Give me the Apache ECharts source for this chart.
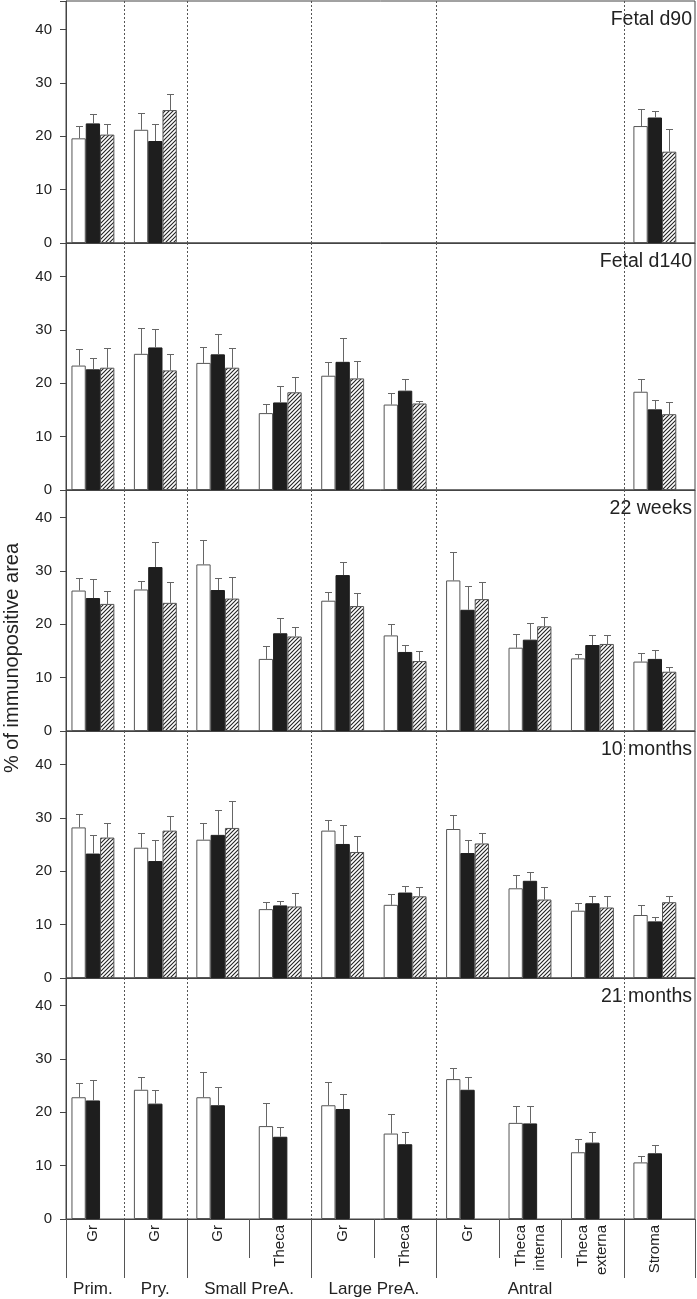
<!DOCTYPE html>
<html><head><meta charset="utf-8">
<script src="https://cdn.jsdelivr.net/npm/echarts@6/dist/echarts.min.js"></script>
<style>html,body{margin:0;padding:0;background:#fff}#c{width:697px;height:1299px}</style>
</head><body><div id="c"></div>
<script>
// ---------- DATA ----------
const categories = ['Gr','Gr','Gr','Theca','Gr','Theca','Gr','Theca\ninterna','Theca\nexterna','Stroma'];
const groups = ['Prim.','Pry.','Small PreA.','Small PreA.','Large PreA.','Large PreA.','Antral','Antral','Antral',''];
const panelNames = ['Fetal d90','Fetal d140','22 weeks','10 months','21 months'];
const yTickLabels = [0,10,20,30,40];
const seriesNames = ['open','filled','hatched'];

// Fetal d90
const d90_open      = [19.6,21.2,null,null,null,null,null,null,null,21.9];
const d90_open_se   = [2.3,3.2,null,null,null,null,null,null,null,3.2];
const d90_filled    = [22.4,19.1,null,null,null,null,null,null,null,23.5];
const d90_filled_se = [1.7,3.1,null,null,null,null,null,null,null,1.3];
const d90_hatch     = [20.3,24.9,null,null,null,null,null,null,null,17.1];
const d90_hatch_se  = [2.0,3.0,null,null,null,null,null,null,null,4.3];
// Fetal d140
const d140_open      = [23.3,25.5,23.8,14.4,21.4,16.0,null,null,null,18.4];
const d140_open_se   = [3.1,4.8,3.0,1.7,2.5,2.1,null,null,null,2.3];
const d140_filled    = [22.6,26.7,25.4,16.4,24.0,18.6,null,null,null,15.1];
const d140_filled_se = [2.1,3.5,3.9,3.0,4.5,2.1,null,null,null,1.7];
const d140_hatch     = [22.9,22.4,22.9,18.3,20.9,16.2,null,null,null,14.2];
const d140_hatch_se  = [3.7,3.0,3.6,2.8,3.3,0.5,null,null,null,2.2];
// 22 weeks
const w22_open      = [26.3,26.5,31.2,13.5,24.4,17.9,28.2,15.6,13.6,13.0];
const w22_open_se   = [2.3,1.5,4.6,2.5,1.7,2.2,5.4,2.5,0.8,1.6];
const w22_filled    = [24.9,30.7,26.4,18.3,29.2,14.8,22.7,17.1,16.1,13.5];
const w22_filled_se = [3.6,4.6,2.2,2.9,2.5,1.3,4.4,3.1,1.9,1.6];
const w22_hatch     = [23.8,24.0,24.8,17.7,23.4,13.1,24.7,19.6,16.3,11.1];
const w22_hatch_se  = [2.4,3.9,4.0,1.7,2.5,1.9,3.2,1.7,1.6,0.8];
// 10 months
const m10_open      = [28.2,24.4,25.9,12.9,27.6,13.7,27.9,16.8,12.6,11.8];
const m10_open_se   = [2.5,2.7,3.1,1.3,1.9,2.0,2.6,2.4,1.5,1.8];
const m10_filled    = [23.3,21.9,26.8,13.6,25.1,16.0,23.4,18.2,14.0,10.6];
const m10_filled_se = [3.4,4.0,4.6,0.9,3.5,1.3,2.4,1.7,1.4,0.8];
const m10_hatch     = [26.3,27.6,28.1,13.4,23.6,15.3,25.2,14.7,13.2,14.2];
const m10_hatch_se  = [2.7,2.8,5.1,2.5,3.0,1.7,1.9,2.3,2.2,1.2];
// 21 months
const m21_open      = [22.8,24.2,22.8,17.4,21.3,16.0,26.2,18.0,12.5,10.6];
const m21_open_se   = [2.6,2.4,4.8,4.3,4.3,3.7,2.1,3.2,2.4,1.2];
const m21_filled    = [22.2,21.6,21.3,15.4,20.6,14.0,24.2,17.9,14.3,12.3];
const m21_filled_se = [3.8,2.6,3.4,1.9,2.8,2.3,2.3,3.3,1.9,1.6];
const m21_hatch     = [null,null,null,null,null,null,null,null,null,null];
const m21_hatch_se  = [null,null,null,null,null,null,null,null,null,null];

const panels = [
  [[d90_open,d90_open_se],[d90_filled,d90_filled_se],[d90_hatch,d90_hatch_se]],
  [[d140_open,d140_open_se],[d140_filled,d140_filled_se],[d140_hatch,d140_hatch_se]],
  [[w22_open,w22_open_se],[w22_filled,w22_filled_se],[w22_hatch,w22_hatch_se]],
  [[m10_open,m10_open_se],[m10_filled,m10_filled_se],[m10_hatch,m10_hatch_se]],
  [[m21_open,m21_open_se],[m21_filled,m21_filled_se],[m21_hatch,m21_hatch_se]]
];

// ---------- LAYOUT / STYLE ----------
const W = 697;
const FONT = "'Liberation Sans', Arial, sans-serif";
const panelTops = [1, 243, 490, 731, 978];
const panelBottoms = [243, 490, 731, 978, 1219];
const pxPerUnit = 5.34;
const xMin = -0.431, xMax = 9.643;
const gridLeft = 66, gridRight = 695;
const barW = 14.3;
const axisColor = '#444';
const textColor = '#222';

function hatchCanvas(){
  const c = document.createElement('canvas'); c.width = 4; c.height = 4;
  const g = c.getContext('2d');
  g.fillStyle = '#fff'; g.fillRect(0,0,4,4);
  g.strokeStyle = '#222'; g.lineWidth = 1.1;
  g.beginPath();
  g.moveTo(0,4); g.lineTo(4,0);
  g.moveTo(-1,1); g.lineTo(1,-1);
  g.moveTo(3,5); g.lineTo(5,3);
  g.stroke();
  return c;
}
const barStyles = [
  {color:'#ffffff', borderColor:'#555', borderWidth:1},
  {color:'#1e1e1e', borderColor:'#1e1e1e', borderWidth:1},
  {color:{image:hatchCanvas(), repeat:'repeat'}, borderColor:'#555', borderWidth:1}
];

// group boundaries derived from group names
const groupBoundaries = [];
const subBoundaries = [];
for (let i = 1; i < groups.length; i++) {
  if (groups[i] !== groups[i-1]) groupBoundaries.push(i - 0.5);
  else subBoundaries.push(i - 0.5);
}
const groupSpans = [];
groups.forEach((g, i) => {
  const last = groupSpans[groupSpans.length-1];
  if (last && last.name === g) last.end = i; else groupSpans.push({name:g, start:i, end:i});
});

const grids = [], xAxes = [], yAxes = [], series = [], titles = [];
panels.forEach((panel, k) => {
  const h = panelBottoms[k] - panelTops[k];
  grids.push({left:gridLeft, width:gridRight-gridLeft, top:panelTops[k], height:h,
    show:true, borderColor:axisColor, borderWidth:1, backgroundColor:'transparent'});
  xAxes.push({gridIndex:k, type:'value', min:xMin, max:xMax,
    axisLine:{show:true, onZero:false, lineStyle:{color:axisColor, width:1}},
    axisTick:{show:false}, axisLabel:{show:false}, splitLine:{show:false}});
  yAxes.push({gridIndex:k, type:'value', min:0, max:h/pxPerUnit, interval:10,
    axisLine:{show:true, onZero:false, lineStyle:{color:axisColor, width:1}},
    axisTick:{show:true, inside:false, length:6, lineStyle:{color:axisColor},
      interval:0},
    axisLabel:{fontSize:15, color:textColor, fontFamily:FONT, margin:14,
      formatter: v => yTickLabels.indexOf(Math.round(v*1000)/1000) >= 0 ? String(v) : ''},
    splitLine:{show:false}});
  titles.push({text:panelNames[k], right:W-692, top:panelTops[k]+9, padding:0,
    textStyle:{fontSize:19.5, fontWeight:'normal', color:textColor, fontFamily:FONT}});

  // dashed group separators inside the panel
  series.push({type:'custom', xAxisIndex:k, yAxisIndex:k, silent:true, z:1,
    data: groupBoundaries.map(b => [b, 0]), encode:{x:0, y:1},
    renderItem:(params, api) => {
      const p = api.coord([api.value(0), 0]);
      const cs = params.coordSys;
      const x = Math.round(p[0]) + 0.5;
      return {type:'line', shape:{x1:x, y1:cs.y, x2:x, y2:cs.y + cs.height},
        style:{stroke:'#555', lineWidth:1, lineDash:[2,2]}};
    }});

  panel.forEach(([means, ses], s) => {
    const barData = [];
    const errData = [];
    means.forEach((v, i) => {
      if (v != null) { barData.push([i, v]); errData.push([i, v, ses[i]]); }
    });
    series.push({type:'bar', name:seriesNames[s], xAxisIndex:k, yAxisIndex:k,
      data:barData, barWidth:barW, barGap:'0%', itemStyle:barStyles[s], silent:true, z:2});
    const dx = (s - 1) * barW;
    series.push({type:'custom', xAxisIndex:k, yAxisIndex:k, data:errData, silent:true, z:3,
      encode:{x:0, y:1},
      renderItem:(params, api) => {
        const x = api.value(0), m = api.value(1), e = api.value(2);
        const b = api.coord([x, m]), t = api.coord([x, m + e]);
        const cx = Math.round(b[0] + dx) + 0.5;
        const ty = Math.round(t[1]) + 0.5;
        const st = {stroke:'#666', lineWidth:1};
        return {type:'group', children:[
          {type:'line', shape:{x1:cx, y1:b[1], x2:cx, y2:ty}, style:st},
          {type:'line', shape:{x1:cx-3.5, y1:ty, x2:cx+3.5, y2:ty}, style:st}
        ]};
      }});
  });
});

// ---------- bottom category & group labels (last grid) ----------
const L = panels.length - 1;
series.push({type:'custom', xAxisIndex:L, yAxisIndex:L, silent:true, clip:false,
  data: categories.map((c, i) => [i, 0]), encode:{x:0, y:1},
  renderItem:(params, api) => {
    const p = api.coord([api.value(0), 0]);
    return {type:'text', x:p[0], y:p[1] + 6, rotation:Math.PI/2,
      style:{text:categories[params.dataIndex], fontSize:15, fontFamily:FONT, fill:textColor,
        align:'right', textAlign:'right', verticalAlign:'middle', textVerticalAlign:'middle', lineHeight:19}};
  }});
series.push({type:'custom', xAxisIndex:L, yAxisIndex:L, silent:true, clip:false,
  data: groupSpans.map(g => [(g.start + g.end)/2, 0]), encode:{x:0, y:1},
  renderItem:(params, api) => {
    const p = api.coord([api.value(0), 0]);
    return {type:'text', x:p[0], y:p[1] + 70,
      style:{text:groupSpans[params.dataIndex].name, fontSize:17, fontFamily:FONT, fill:textColor,
        align:'center', textAlign:'center', verticalAlign:'middle', textVerticalAlign:'middle'}};
  }});
const sepData = [[xMin,0,1]].concat(groupBoundaries.map(b=>[b,0,1]), subBoundaries.map(b=>[b,0,0]), [[xMax,0,1]]);
series.push({type:'custom', xAxisIndex:L, yAxisIndex:L, silent:true, clip:false,
  data: sepData, encode:{x:0, y:1},
  renderItem:(params, api) => {
    const p = api.coord([api.value(0), 0]);
    const long = api.value(2) === 1;
    const x = Math.round(p[0]) + 0.5;
    return {type:'line', shape:{x1:x, y1:p[1], x2:x, y2:p[1] + (long ? 59 : 39)},
      style:{stroke:'#555', lineWidth:1}};
  }});

const option = {
  animation:false,
  backgroundColor:'#fff',
  textStyle:{fontFamily:FONT},
  title: titles,
  grid: grids, xAxis: xAxes, yAxis: yAxes, series: series,
  graphic: [{type:'text', x:12, y:658, rotation:Math.PI/2,
    style:{text:'% of immunopositive area', fontSize:20, fontFamily:FONT, fill:textColor,
      align:'center', textAlign:'center', verticalAlign:'middle', textVerticalAlign:'middle'}}]
};
const chart = echarts.init(document.getElementById('c'), null, {renderer:'canvas'});
chart.setOption(option);
</script></body></html>
